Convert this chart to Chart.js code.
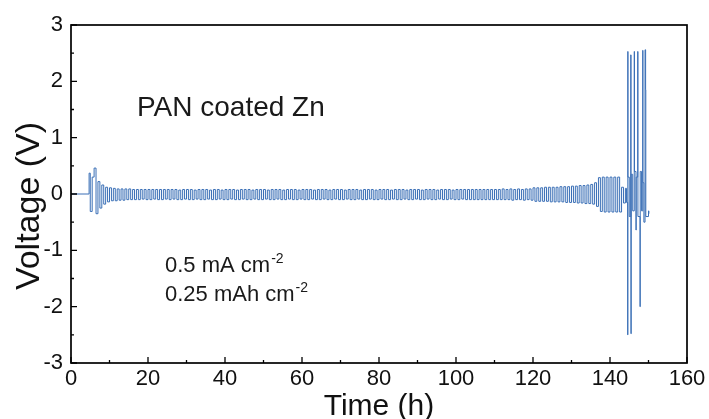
<!DOCTYPE html>
<html>
<head>
<meta charset="utf-8">
<script src="https://cdn.jsdelivr.net/npm/chart.js@4.4.1/dist/chart.umd.min.js"></script>
<style>
  html, body { margin: 0; padding: 0; background: #fff; }
  #wrap { width: 709px; height: 419px; }
</style>
</head>
<body>
<div id="wrap"><canvas id="c" width="709" height="419"></canvas></div>
<script>
// ---- data (time in h, voltage in V; each value holds from its time on) ----
const timeH = [
  0, 4.7,
  5, 5.5, 6, 6.5, 7, 7.5, 8, 8.5, 9, 9.5, 10, 10.5, 11, 11.5, 12, 12.5, 13, 13.5, 14, 14.5,
  15, 15.5, 16, 16.5, 17, 17.5, 18, 18.5, 19, 19.5, 20, 20.5, 21, 21.5, 22, 22.5, 23, 23.5, 24, 24.5,
  25, 25.5, 26, 26.5, 27, 27.5, 28, 28.5, 29, 29.5, 30, 30.5, 31, 31.5, 32, 32.5, 33, 33.5, 34, 34.5,
  35, 35.5, 36, 36.5, 37, 37.5, 38, 38.5, 39, 39.5, 40, 40.5, 41, 41.5, 42, 42.5, 43, 43.5, 44, 44.5,
  45, 45.5, 46, 46.5, 47, 47.5, 48, 48.5, 49, 49.5, 50, 50.5, 51, 51.5, 52, 52.5, 53, 53.5, 54, 54.5,
  55, 55.5, 56, 56.5, 57, 57.5, 58, 58.5, 59, 59.5, 60, 60.5, 61, 61.5, 62, 62.5, 63, 63.5, 64, 64.5,
  65, 65.5, 66, 66.5, 67, 67.5, 68, 68.5, 69, 69.5, 70, 70.5, 71, 71.5, 72, 72.5, 73, 73.5, 74, 74.5,
  75, 75.5, 76, 76.5, 77, 77.5, 78, 78.5, 79, 79.5, 80, 80.5, 81, 81.5, 82, 82.5, 83, 83.5, 84, 84.5,
  85, 85.5, 86, 86.5, 87, 87.5, 88, 88.5, 89, 89.5, 90, 90.5, 91, 91.5, 92, 92.5, 93, 93.5, 94, 94.5,
  95, 95.5, 96, 96.5, 97, 97.5, 98, 98.5, 99, 99.5, 100, 100.5, 101, 101.5, 102, 102.5, 103, 103.5, 104, 104.5,
  105, 105.5, 106, 106.5, 107, 107.5, 108, 108.5, 109, 109.5, 110, 110.5, 111, 111.5, 112, 112.5, 113, 113.5, 114, 114.5,
  115, 115.5, 116, 116.5, 117, 117.5, 118, 118.5, 119, 119.5, 120, 120.5, 121, 121.5, 122, 122.5, 123, 123.5, 124, 124.5,
  125, 125.5, 126, 126.5, 127, 127.5, 128, 128.5, 129, 129.5, 130, 130.5, 131, 131.5, 132, 132.5, 133, 133.5, 134, 134.5,
  135, 135.5, 136, 136.5, 137, 137.5, 138, 138.5, 139, 139.5, 140, 140.5, 141, 141.5, 142, 142.5, 143, 143.5, 144,
  144.3, 144.6, 144.63, 144.66, 145.0, 145.4, 145.45, 145.5, 145.9, 146.3, 146.35, 146.75, 146.8,
  147.2, 147.25, 147.8, 147.85, 148.2, 148.5, 148.55, 148.8, 149.1, 149.25, 149.3, 150.0, 150.1
];
const voltageV = [
  0, 0.37,
  -0.31, 0.3, 0.46, -0.35, 0.22, -0.25, 0.16, -0.18, 0.12, -0.14, 0.11, -0.12, 0.1, -0.12, 0.09, -0.11, 0.09, -0.11, 0.09, -0.1,
  0.09, -0.1, 0.08, -0.1, 0.08, -0.1, 0.08, -0.09, 0.08, -0.1, 0.08, -0.1, 0.08, -0.09, 0.08, -0.1, 0.08, -0.1, 0.08, -0.09,
  0.08, -0.1, 0.08, -0.09, 0.08, -0.1, 0.07, -0.1, 0.08, -0.09, 0.08, -0.1, 0.08, -0.1, 0.07, -0.09, 0.08, -0.1, 0.08, -0.1,
  0.08, -0.09, 0.07, -0.1, 0.08, -0.1, 0.08, -0.09, 0.07, -0.1, 0.08, -0.1, 0.08, -0.09, 0.08, -0.1, 0.07, -0.1, 0.08, -0.09,
  0.08, -0.1, 0.08, -0.1, 0.07, -0.09, 0.08, -0.1, 0.08, -0.1, 0.08, -0.09, 0.07, -0.1, 0.08, -0.1, 0.08, -0.09, 0.08, -0.1,
  0.07, -0.1, 0.08, -0.09, 0.08, -0.1, 0.08, -0.1, 0.07, -0.09, 0.08, -0.1, 0.08, -0.1, 0.08, -0.09, 0.07, -0.1, 0.08, -0.1,
  0.08, -0.09, 0.08, -0.1, 0.07, -0.1, 0.08, -0.09, 0.08, -0.1, 0.08, -0.1, 0.07, -0.09, 0.08, -0.1, 0.08, -0.1, 0.08, -0.09,
  0.07, -0.1, 0.08, -0.1, 0.08, -0.09, 0.08, -0.1, 0.07, -0.1, 0.08, -0.09, 0.08, -0.1, 0.08, -0.1, 0.07, -0.09, 0.08, -0.1,
  0.08, -0.1, 0.08, -0.09, 0.07, -0.1, 0.08, -0.1, 0.08, -0.09, 0.08, -0.1, 0.07, -0.1, 0.08, -0.09, 0.08, -0.1, 0.08, -0.1,
  0.07, -0.09, 0.08, -0.1, 0.08, -0.1, 0.08, -0.09, 0.07, -0.1, 0.08, -0.1, 0.08, -0.09, 0.08, -0.1, 0.08, -0.1, 0.08, -0.1,
  0.08, -0.1, 0.08, -0.1, 0.08, -0.1, 0.08, -0.1, 0.08, -0.1, 0.08, -0.1, 0.08, -0.1, 0.09, -0.1, 0.08, -0.1, 0.09, -0.11,
  0.08, -0.1, 0.09, -0.1, 0.08, -0.11, 0.09, -0.1, 0.09, -0.11, 0.11, -0.13, 0.11, -0.13, 0.11, -0.13, 0.12, -0.13, 0.12, -0.14,
  0.12, -0.14, 0.12, -0.14, 0.13, -0.14, 0.13, -0.15, 0.13, -0.15, 0.14, -0.15, 0.14, -0.16, 0.15, -0.16, 0.15, -0.17, 0.16, -0.17,
  0.17, -0.18, 0.2, -0.22, 0.29, -0.31, 0.3, -0.32, 0.3, -0.32, 0.3, -0.32, 0.3, -0.32, 0.3, -0.32, 0.12, -0.16, 0.1,
  -0.15, -2.5, 2.53, 0.3, -0.4, 2.47, -2.48, 0.35, -0.3, 2.53, 0.4, -0.64, 0.3,
  2.53, -0.4, -2.0, 0.4, -0.3, 2.55, 0.2, -0.5, 2.56, 1.85, -0.4, -0.3, -0.35
];
const xTickValues = [0, 20, 40, 60, 80, 100, 120, 140, 160];
const yTickValues = [-3, -2, -1, 0, 1, 2, 3];
const xTitle = 'Time (h)';
const yTitle = 'Voltage (V)';
const sampleLabel = 'PAN coated Zn';
const conditionLines = [['0.5 mA cm', '-2'], ['0.25 mAh cm', '-2']];

// ---- chart ----
const FONT = '"Liberation Sans", Arial, sans-serif';
const points = timeH.map((t, i) => ({ x: t, y: voltageV[i] }));

const framePlugin = {
  id: 'frame',
  afterDraw(chart) {
    const { ctx, chartArea: a, scales: { x, y } } = chart;
    ctx.save();
    ctx.strokeStyle = '#000';
    ctx.lineWidth = 1.7;
    ctx.strokeRect(a.left, a.top, a.right - a.left, a.bottom - a.top);
    // inward ticks (major + minor)
    ctx.lineWidth = 1.3;
    ctx.beginPath();
    for (let i = 0; i < xTickValues.length; i++) {
      const v = xTickValues[i];
      const px = x.getPixelForValue(v);
      ctx.moveTo(px, a.bottom); ctx.lineTo(px, a.bottom - 6);
      if (i < xTickValues.length - 1) {
        const pm = x.getPixelForValue((v + xTickValues[i + 1]) / 2);
        ctx.moveTo(pm, a.bottom); ctx.lineTo(pm, a.bottom - 3);
      }
    }
    for (let i = 0; i < yTickValues.length; i++) {
      const v = yTickValues[i];
      const py = y.getPixelForValue(v);
      ctx.moveTo(a.left, py); ctx.lineTo(a.left + 6, py);
      if (i < yTickValues.length - 1) {
        const pm = y.getPixelForValue((v + yTickValues[i + 1]) / 2);
        ctx.moveTo(a.left, pm); ctx.lineTo(a.left + 3, pm);
      }
    }
    ctx.stroke();

    // y-axis title (rotated)
    ctx.save();
    ctx.fillStyle = '#111';
    ctx.font = '34px ' + FONT;
    ctx.textAlign = 'center';
    ctx.textBaseline = 'middle';
    ctx.translate(30, 206);
    ctx.rotate(-Math.PI / 2);
    ctx.fillText(yTitle, 0, 0);
    ctx.restore();

    // annotations
    ctx.fillStyle = '#1a1a1a';
    ctx.textBaseline = 'alphabetic';
    ctx.textAlign = 'left';
    ctx.font = '28px ' + FONT;
    ctx.fillText(sampleLabel, a.left + 66, 116);
    const baseY = [272, 301];
    conditionLines.forEach((ln, i) => {
      ctx.font = '22px ' + FONT;
      const x0 = a.left + 94;
      ctx.fillText(ln[0], x0, baseY[i]);
      const w = ctx.measureText(ln[0]).width;
      ctx.font = '14px ' + FONT;
      ctx.fillText(ln[1], x0 + w + 1, baseY[i] - 9);
    });
    ctx.restore();
  }
};

new Chart(document.getElementById('c'), {
  type: 'line',
  data: {
    datasets: [{
      data: points,
      borderColor: '#3a6fb6',
      borderWidth: 1,
      pointRadius: 0,
      stepped: true,
      tension: 0,
      fill: false
    }]
  },
  options: {
    responsive: false,
    animation: false,
    events: [],
    layout: { padding: { left: 0, top: 25, right: 22, bottom: 0 } },
    plugins: { legend: { display: false }, tooltip: { enabled: false } },
    scales: {
      x: {
        type: 'linear',
        min: 0, max: 160,
        afterFit(s) { s.height = 56; },
        afterBuildTicks(s) { s.ticks = xTickValues.map(v => ({ value: v })); },
        grid: { display: false, drawTicks: false },
        border: { display: false },
        ticks: { color: '#111', padding: 3, maxRotation: 0, font: { family: FONT, size: 22 } },
        title: { display: true, text: xTitle, color: '#111', padding: { top: 0, bottom: 0 },
                 font: { family: FONT, size: 30, lineHeight: 0.8 } }
      },
      y: {
        type: 'linear',
        min: -3, max: 3,
        afterFit(s) { s.width = 71; },
        afterBuildTicks(s) { s.ticks = yTickValues.map(v => ({ value: v })); },
        grid: { display: false, drawTicks: false },
        border: { display: false },
        ticks: { color: '#111', padding: 8, font: { family: FONT, size: 22 } },
        title: { display: false, text: yTitle }
      }
    }
  },
  plugins: [framePlugin]
});
</script>
</body>
</html>
